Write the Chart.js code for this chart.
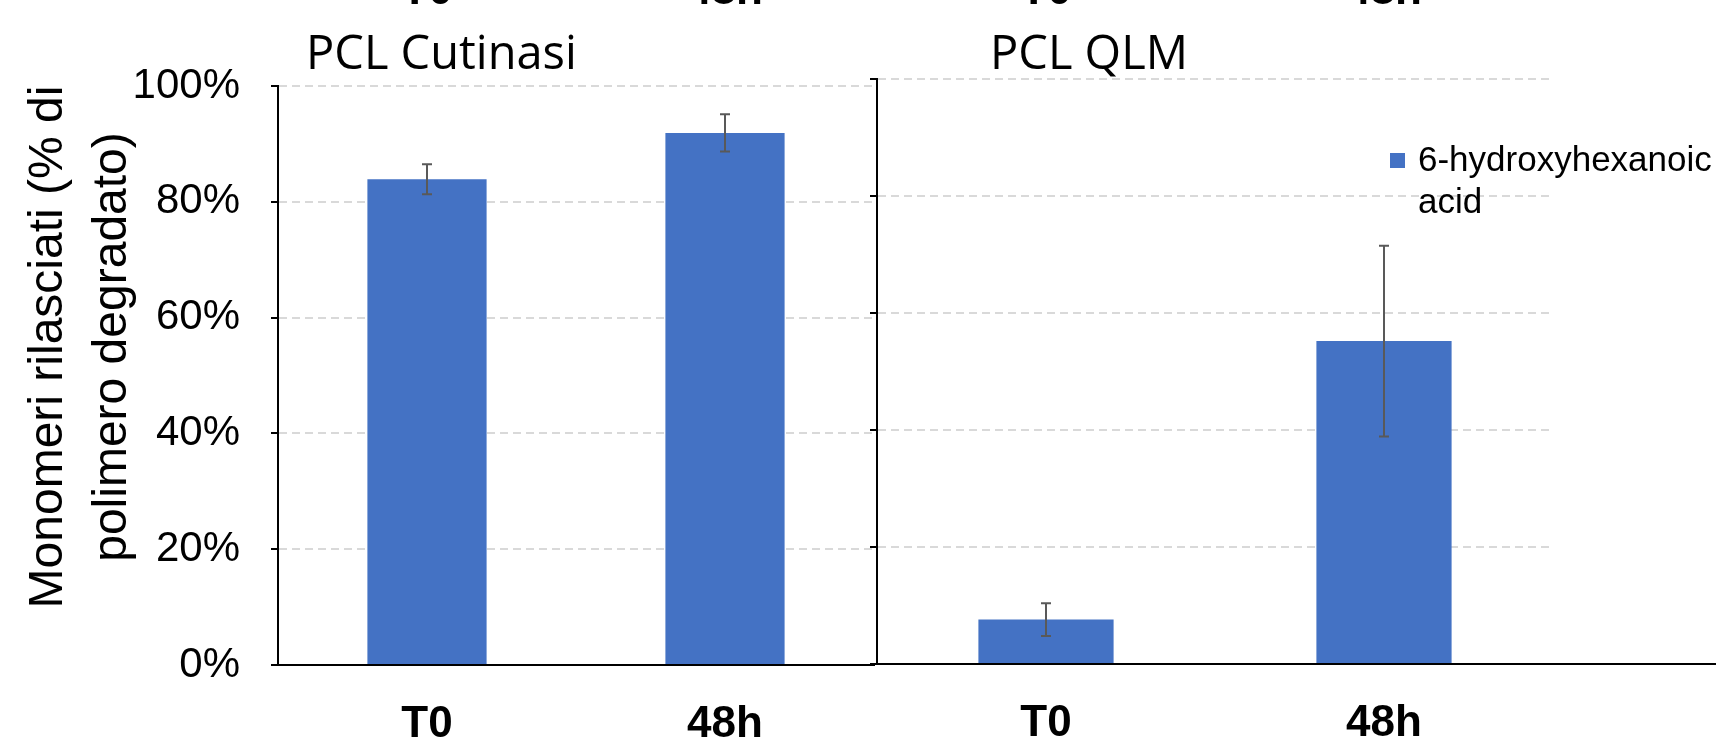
<!DOCTYPE html>
<html>
<head>
<meta charset="utf-8">
<script src="https://cdn.jsdelivr.net/npm/chart.js@4.4.1/dist/chart.umd.min.js"></script>
<style>
  html, body { margin: 0; padding: 0; background: #fff; }
  #wrap { position: relative; width: 1716px; height: 737px; overflow: hidden; background: #fff; }
  canvas { position: absolute; left: 0; top: 0; }
</style>
</head>
<body>
<div id="wrap">
  <canvas id="qlmChart" width="1716" height="737"></canvas>
  <canvas id="cutChart" width="1716" height="737"></canvas>
</div>
<script>
"use strict";

// Data (% of degraded polymer)
const categories = ["T0", "48h"];
const seriesLabel = "6-hydroxyhexanoic acid";
const cutinasiValues = [83.9, 91.9];
const cutinasiErrors = [2.6, 3.2];
const qlmValues = [7.6, 55.2];
const qlmErrors = [2.8, 16.3];
const yTicks = [0, 20, 40, 60, 80, 100];
const yTitleLines = ["Monomeri rilasciati (% di", "polimero degradato)"];
const panelTitles = ["PCL Cutinasi", "PCL QLM"];

const SANS = "'Liberation Sans', Arial, sans-serif";
const TITLE_FONT = "'Open Sans', 'Noto Sans', sans-serif";
const BAR_BLUE = "#4472C4";

// error bars drawn through the y scale
const errorBars = {
  id: "errorBars",
  afterDatasetsDraw(chart, args, opts) {
    const meta = chart.getDatasetMeta(0);
    const y = chart.scales.y;
    const ctx = chart.ctx;
    const vals = chart.data.datasets[0].data;
    ctx.save();
    ctx.strokeStyle = "#595959";
    ctx.lineWidth = 2;
    meta.data.forEach((bar, i) => {
      const top = y.getPixelForValue(vals[i] + opts.errors[i]);
      const bot = y.getPixelForValue(vals[i] - opts.errors[i]);
      ctx.beginPath();
      ctx.moveTo(bar.x, top); ctx.lineTo(bar.x, bot);
      ctx.moveTo(bar.x - 5, top); ctx.lineTo(bar.x + 5, top);
      ctx.moveTo(bar.x - 5, bot); ctx.lineTo(bar.x + 5, bot);
      ctx.stroke();
    });
    ctx.restore();
  }
};

// titles, cut-off labels at the top, y title, legend
const panelText = {
  id: "panelText",
  afterDraw(chart, args, opts) {
    const ctx = chart.ctx;
    const area = chart.chartArea;
    const x = chart.scales.x;
    ctx.save();
    ctx.fillStyle = "#000";

    // panel title
    ctx.font = "47px " + TITLE_FONT;
    ctx.textAlign = "left";
    ctx.textBaseline = "middle";
    ctx.fillText(opts.title, area.left + opts.titleDx, 56);

    // bottom of the labels of the chart above (cut off)
    ctx.font = "bold 44px " + SANS;
    ctx.textAlign = "center";
    ctx.textBaseline = "alphabetic";
    chart.data.labels.forEach((lab, i) => {
      ctx.fillText(lab, x.getPixelForValue(i), 4);
    });

    if (opts.yTitle) {
      ctx.font = "48px " + SANS;
      ctx.textAlign = "center";
      ctx.textBaseline = "middle";
      opts.yTitle.forEach((line, i) => {
        ctx.save();
        ctx.translate(49 + i * 64, 347);
        ctx.rotate(-Math.PI / 2);
        ctx.fillText(line, 0, 0);
        ctx.restore();
      });
    }

    if (opts.legend) {
      const ds = chart.data.datasets[0];
      ctx.font = "35px " + SANS;
      ctx.textAlign = "left";
      ctx.textBaseline = "middle";
      const maxW = chart.width - 1418;
      const lines = [];
      let cur = "";
      ds.label.split(" ").forEach(w => {
        const t = cur ? cur + " " + w : w;
        if (cur && ctx.measureText(t).width > maxW) { lines.push(cur); cur = w; }
        else cur = t;
      });
      lines.push(cur);
      ctx.fillStyle = ds.backgroundColor;
      ctx.fillRect(1390, 153, 15, 15);
      ctx.fillStyle = "#000";
      lines.forEach((l, i) => ctx.fillText(l, 1418, 161 + i * 42));

      // x axis line runs on to the edge of the picture
      const y0 = chart.scales.y.getPixelForValue(0);
      ctx.strokeStyle = "#000";
      ctx.lineWidth = 2;
      ctx.beginPath();
      ctx.moveTo(area.right, y0);
      ctx.lineTo(chart.width, y0);
      ctx.stroke();
    }
    ctx.restore();
  }
};

function makeChart(id, values, errors, cfg) {
  return new Chart(document.getElementById(id), {
    type: "bar",
    data: {
      labels: categories,
      datasets: [{
        label: seriesLabel,
        data: values,
        backgroundColor: BAR_BLUE,
        borderWidth: 0,
        barPercentage: 0.4,
        categoryPercentage: 1
      }]
    },
    options: {
      responsive: false,
      animation: false,
      devicePixelRatio: 1,
      layout: { padding: cfg.padding },
      scales: {
        x: {
          grid: { display: false, drawTicks: false },
          border: { display: true, color: "#000", width: 2 },
          ticks: { color: "#000", font: { family: SANS, size: 44, weight: "bold" }, padding: 33 },
          afterFit: s => { s.height = cfg.xHeight; }
        },
        y: {
          min: 0,
          max: 100,
          afterBuildTicks: s => { s.ticks = yTicks.map(v => ({ value: v })); },
          grid: {
            color: c => (c.tick && c.tick.value === 0 ? "rgba(0,0,0,0)" : "#d9d9d9"),
            lineWidth: 2,
            tickColor: "#000",
            tickLength: 7,
            tickWidth: 2
          },
          border: { display: true, color: "#000", width: 2, dash: [8, 5] },
          ticks: {
            color: cfg.tickColor,
            font: { family: SANS, size: 42 },
            padding: 31,
            callback: v => v + "%"
          },
          afterFit: s => { s.width = cfg.yWidth; }
        }
      },
      plugins: {
        legend: { display: false },
        tooltip: { enabled: false },
        errorBars: { errors: errors },
        panelText: cfg.text
      }
    },
    plugins: [errorBars, panelText]
  });
}

// right panel (behind)
makeChart("qlmChart", qlmValues, qlmErrors, {
  padding: { left: 0, top: 79, right: 163, bottom: 0 },
  xHeight: 73,
  yWidth: 877,
  tickColor: "rgba(0,0,0,0)",
  text: { title: panelTitles[1], titleDx: 113, legend: true }
});

// left panel (front)
makeChart("cutChart", cutinasiValues, cutinasiErrors, {
  padding: { left: 0, top: 86, right: 842, bottom: 0 },
  xHeight: 72,
  yWidth: 278,
  tickColor: "#000",
  text: { title: panelTitles[0], titleDx: 28, yTitle: yTitleLines }
});
</script>
</body>
</html>
